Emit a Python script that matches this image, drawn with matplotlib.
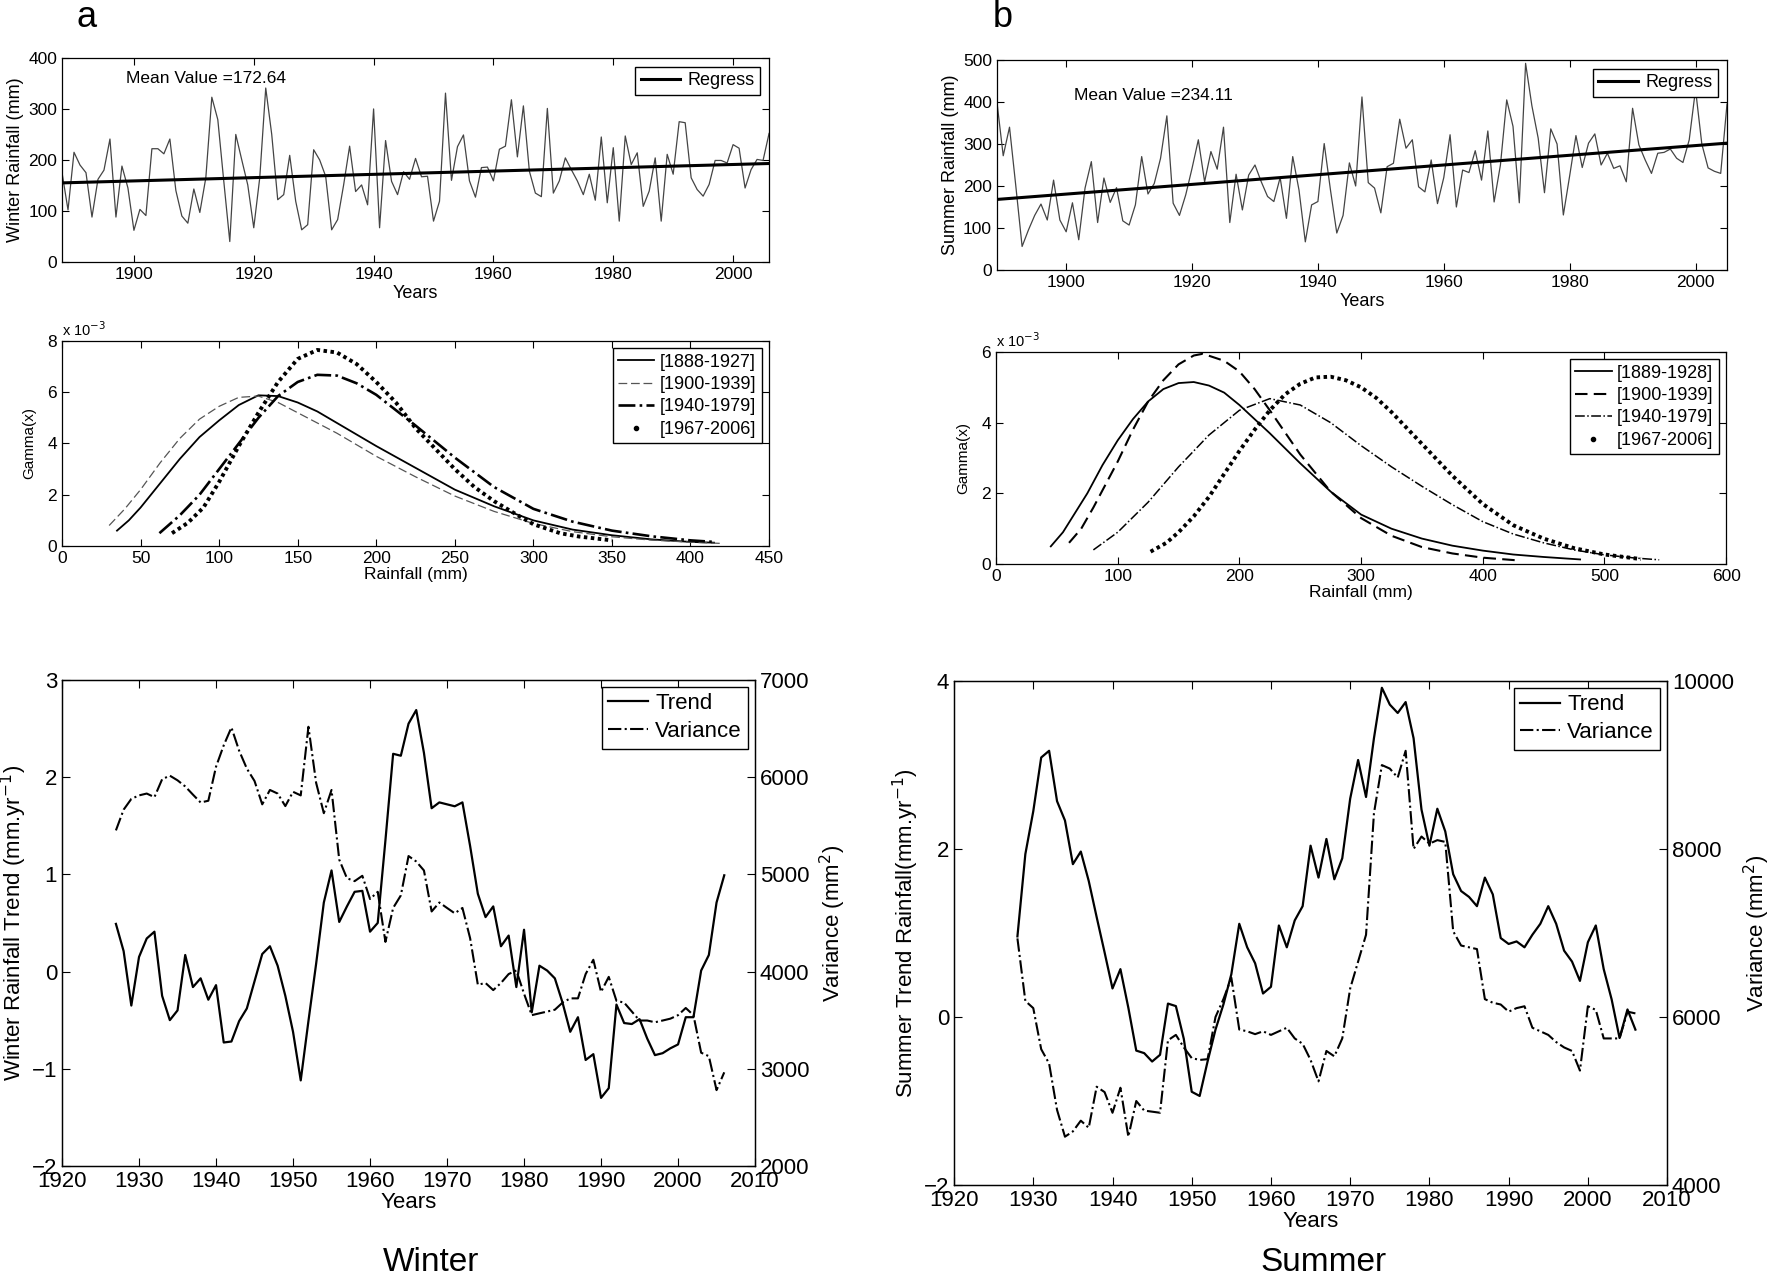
import numpy as np
import matplotlib
matplotlib.use("Agg")
import matplotlib.pyplot as plt
from matplotlib.lines import Line2D
from matplotlib import font_manager

# ---------------- data ----------------
w_years = np.arange(1888, 2007)
w_rain = [175, 102, 215, 190, 175, 88, 162, 180, 241, 88, 188, 145,
          62, 103, 91, 222, 222, 212, 241, 140, 90, 76,
          143, 97, 165, 323, 279, 158, 40, 250, 200, 151,
          67, 165, 341, 250, 122, 132, 209, 119, 63, 73,
          220, 200, 168, 63, 83, 151, 227, 138, 151, 112,
          300, 67, 238, 158, 132, 177, 162, 203, 167, 168,
          80, 119, 331, 160, 226, 249, 159, 127, 185, 186,
          159, 221, 227, 318, 206, 306, 178, 135, 128, 301,
          135, 159, 204, 181, 159, 132, 172, 121, 245, 116,
          224, 80, 247, 191, 214, 109, 139, 204, 80, 211,
          172, 275, 273, 165, 142, 129, 152, 199, 199, 194,
          230, 223, 145, 181, 201, 199, 252]
w_reg_years = [1888, 2006]
w_reg = [155, 193]

s_years = np.arange(1889, 2006)
s_rain = [400, 272, 340, 200, 56, 95, 130, 157, 119, 214, 119,
          91, 160, 72, 195, 258, 113, 219, 161, 196, 117,
          107, 155, 270, 181, 206, 266, 367, 159, 130, 179,
          242, 310, 210, 282, 240, 340, 113, 228, 143, 226,
          250, 210, 175, 163, 220, 123, 270, 190, 67, 155,
          163, 301, 190, 88, 130, 255, 200, 412, 208, 195,
          136, 246, 254, 359, 290, 310, 198, 186, 262, 158,
          220, 322, 150, 238, 232, 284, 214, 331, 162, 250,
          405, 342, 160, 492, 391, 314, 184, 336, 300, 131,
          224, 320, 244, 302, 324, 250, 278, 242, 248, 210,
          385, 298, 262, 230, 278, 280, 288, 266, 256, 310,
          430, 300, 243, 235, 230, 395]
s_reg_years = [1889, 2005]
s_reg = [168, 302]

# gamma curves (values x 1e-3)
wg1_x = [35, 42.5, 50, 62.5, 75, 87.5, 100, 112.5, 125, 137.5, 150, 162.5, 175,
         187.5, 200, 225, 250, 275, 300, 325, 350, 375, 400, 415]
wg1_y = [0.6, 1.0, 1.5, 2.45, 3.4, 4.25, 4.9, 5.5, 5.88, 5.85, 5.6, 5.25, 4.8,
         4.35, 3.9, 3.05, 2.2, 1.55, 1.0, 0.64, 0.42, 0.26, 0.16, 0.13]
wg2_x = [30, 40, 50, 62.5, 75, 87.5, 100, 112.5, 125, 137.5, 150, 175, 200,
         225, 250, 275, 300, 325, 350, 375, 400, 420]
wg2_y = [0.8, 1.45, 2.2, 3.25, 4.2, 4.95, 5.45, 5.8, 5.85, 5.6, 5.2, 4.4, 3.5,
         2.7, 1.95, 1.35, 0.88, 0.56, 0.36, 0.23, 0.15, 0.1]
wg3_x = [62, 75, 87.5, 100, 112.5, 125, 137.5, 150, 162.5, 175, 187.5, 200,
         225, 250, 275, 300, 325, 350, 375, 400, 415]
wg3_y = [0.5, 1.2, 2.0, 3.0, 4.0, 5.0, 5.85, 6.4, 6.68, 6.65, 6.35, 5.9,
         4.7, 3.45, 2.3, 1.45, 0.95, 0.6, 0.38, 0.22, 0.16]
wg4_x = [70, 80, 90, 100, 112.5, 125, 137.5, 150, 162.5, 175, 187.5, 200, 212.5,
         225, 237.5, 250, 262.5, 275, 290, 300, 317, 329, 350]
wg4_y = [0.5, 0.9, 1.5, 2.5, 3.9, 5.2, 6.4, 7.3, 7.65, 7.55, 7.1, 6.4, 5.6,
         4.6, 3.8, 3.0, 2.3, 1.75, 1.2, 0.85, 0.5, 0.37, 0.22]
w_periods = ["[1888-1927]", "[1900-1939]", "[1940-1979]", "[1967-2006]"]

sg1_x = [45, 55, 65, 75, 87.5, 100, 112.5, 125, 137.5, 150, 162.5, 175, 187.5,
         200, 225, 250, 275, 300, 325, 350, 375, 400, 425, 450, 480]
sg1_y = [0.5, 0.9, 1.45, 2.0, 2.8, 3.5, 4.1, 4.6, 4.95, 5.12, 5.15, 5.05, 4.85,
         4.5, 3.7, 2.85, 2.05, 1.4, 1.0, 0.72, 0.52, 0.38, 0.27, 0.2, 0.13]
sg2_x = [60, 70, 80, 90, 100, 112.5, 125, 137.5, 150, 162.5, 170, 187.5, 200,
         212.5, 225, 250, 275, 300, 325, 350, 375, 400, 430]
sg2_y = [0.6, 1.0, 1.6, 2.25, 2.9, 3.8, 4.6, 5.2, 5.65, 5.9, 5.95, 5.75, 5.45,
         4.95, 4.35, 3.1, 2.05, 1.3, 0.8, 0.48, 0.3, 0.18, 0.1]
sg3_x = [80, 100, 125, 150, 175, 200, 225, 250, 275, 300, 325, 350, 375, 400,
         425, 450, 475, 500, 525, 545]
sg3_y = [0.4, 0.9, 1.75, 2.75, 3.65, 4.35, 4.68, 4.5, 4.0, 3.35, 2.75, 2.2,
         1.68, 1.2, 0.85, 0.6, 0.4, 0.26, 0.17, 0.12]
sg4_x = [127, 140, 150, 162.5, 175, 187.5, 200, 212.5, 225, 237.5, 250, 262.5,
         275, 287.5, 300, 312.5, 325, 337.5, 350, 375, 400, 425, 450, 475, 500, 530]
sg4_y = [0.35, 0.6, 0.9, 1.35, 1.9, 2.55, 3.2, 3.8, 4.35, 4.8, 5.1, 5.28,
         5.3, 5.2, 5.0, 4.7, 4.3, 3.85, 3.4, 2.5, 1.7, 1.1, 0.72, 0.45, 0.27, 0.14]
s_periods = ["[1889-1928]", "[1900-1939]", "[1940-1979]", "[1967-2006]"]

# moving-window trend and variance
wt_years = np.arange(1927, 2007)
w_trend = [0.49, 0.21, -0.35, 0.15, 0.34, 0.41, -0.25, -0.5, -0.40, 0.17,
           -0.16, -0.07, -0.29, -0.14, -0.73, -0.72, -0.51, -0.38, -0.10, 0.18,
           0.26, 0.06, -0.25, -0.62, -1.12, -0.51, 0.08, 0.71, 1.04, 0.51,
           0.67, 0.82, 0.83, 0.41, 0.50, 1.35, 2.24, 2.22, 2.55, 2.69,
           2.25, 1.68, 1.74, 1.72, 1.70, 1.74, 1.29, 0.80, 0.56, 0.67,
           0.26, 0.37, -0.16, 0.43, -0.42, 0.06, 0.01, -0.07, -0.32, -0.62,
           -0.47, -0.91, -0.85, -1.30, -1.20, -0.34, -0.53, -0.54, -0.49, -0.69,
           -0.86, -0.84, -0.79, -0.75, -0.47, -0.47, 0.01, 0.17, 0.71, 0.99]
w_var = [5452, 5665, 5776, 5812, 5831, 5794, 5978, 6015, 5967, 5904,
         5820, 5739, 5757, 6107, 6327, 6511, 6272, 6088, 5960, 5720,
         5868, 5831, 5702, 5849, 5812, 6518, 5941, 5629, 5868, 5151,
         4960, 4930, 4985, 4746, 4820, 4305, 4654, 4783, 5188, 5132,
         5040, 4618, 4710, 4654, 4599, 4654, 4342, 3864, 3882, 3809,
         3882, 3974, 4011, 3772, 3551, 3570, 3588, 3607, 3680, 3724,
         3724, 3974, 4121, 3790, 3945, 3699, 3680, 3588, 3496, 3496,
         3478, 3496, 3515, 3551, 3625, 3551, 3165, 3129, 2780, 2963]

st_years = np.arange(1928, 2007)
s_trend = [0.96, 1.94, 2.45, 3.09, 3.17, 2.57, 2.34, 1.82, 1.97, 1.62,
           1.19, 0.77, 0.34, 0.57, 0.11, -0.40, -0.43, -0.53, -0.45, 0.16,
           0.13, -0.26, -0.89, -0.94, -0.53, -0.15, 0.15, 0.51, 1.11, 0.83,
           0.64, 0.28, 0.36, 1.09, 0.83, 1.15, 1.32, 2.04, 1.66, 2.12,
           1.64, 1.89, 2.60, 3.06, 2.62, 3.32, 3.92, 3.72, 3.62, 3.75,
           3.32, 2.47, 2.04, 2.48, 2.21, 1.70, 1.50, 1.43, 1.32, 1.66,
           1.46, 0.94, 0.87, 0.90, 0.83, 0.98, 1.11, 1.32, 1.11, 0.79,
           0.66, 0.43, 0.89, 1.09, 0.57, 0.21, -0.25, 0.09, -0.15]
s_var = [6936, 6191, 6106, 5617, 5446, 4894, 4575, 4638, 4766, 4681,
         5170, 5106, 4860, 5158, 4575, 5000, 4886, 4873, 4860, 5723,
         5787, 5638, 5511, 5489, 5498, 6000, 6213, 6468, 5851, 5830,
         5796, 5830, 5787, 5830, 5872, 5745, 5681, 5489, 5234, 5596,
         5532, 5745, 6340, 6660, 6979, 8426, 9000, 8958, 8851, 9170,
         8000, 8149, 8064, 8106, 8085, 7021, 6851, 6830, 6809, 6213,
         6170, 6149, 6064, 6106, 6128, 5872, 5830, 5787, 5702, 5638,
         5596, 5362, 6128, 6085, 5745, 5745, 5745, 6064, 6043]

# ---------------- fonts ----------------
installed = {f.name for f in font_manager.fontManager.ttflist}
narrow = "Liberation Sans Narrow" if "Liberation Sans Narrow" in installed else "Liberation Sans"
plt.rcParams["font.family"] = [narrow, "DejaVu Sans"]
plt.rcParams["axes.linewidth"] = 0.9
plt.rcParams["legend.fancybox"] = False
plt.rcParams["legend.edgecolor"] = "black"
plt.rcParams["legend.framealpha"] = 1
plt.rcParams["legend.borderaxespad"] = 0.4

fig = plt.figure(figsize=(17.72, 12.79), dpi=100)


def box_ticks(ax, size):
    ax.tick_params(direction="in", top=True, right=True, labelsize=size,
                   length=5, width=0.8)


def rain_panel(rect, years, rain, reg_years, reg, ylim, ylabel, mean_txt, txt_pos):
    ax = fig.add_axes(rect)
    ax.plot(years, rain, color="#444444", lw=0.9)
    ax.plot(reg_years, reg, color="black", lw=2.2, label="Regress")
    ax.set_xlim(years[0], years[-1])
    ax.set_ylim(*ylim)
    ax.set_xticks([1900, 1920, 1940, 1960, 1980, 2000])
    ax.set_yticks(np.arange(ylim[0], ylim[1] + 1, 100))
    ax.set_xlabel("Years", fontsize=13, labelpad=2)
    ax.set_ylabel(ylabel, fontsize=13, family="Liberation Sans", labelpad=3)
    ax.text(txt_pos[0], txt_pos[1], mean_txt, transform=ax.transAxes,
            fontsize=12.5, va="center")
    box_ticks(ax, 12.5)
    ax.legend(loc="upper right", fontsize=13, handlelength=2.2,
              handletextpad=0.4, borderpad=0.3, borderaxespad=0.5)
    return ax


def gamma_panel(rect, curves, styles, labels, xlim, xticks, ylim, yticks):
    ax = fig.add_axes(rect)
    handles = []
    for (cx, cy), st, lab in zip(curves, styles, labels):
        ax.plot(cx, cy, **st)
        if lab.startswith("[1967"):
            handles.append(Line2D([], [], color="black", marker=".", ls="none",
                                  markersize=6, label=lab))
        else:
            handles.append(Line2D([], [], **st, label=lab))
    ax.set_xlim(*xlim)
    ax.set_ylim(*ylim)
    ax.set_xticks(xticks)
    ax.set_yticks(yticks)
    ax.set_xlabel("Rainfall (mm)", fontsize=12.5, labelpad=1)
    ax.set_ylabel("Gamma(x)", fontsize=11, family="Liberation Sans", labelpad=8)
    ax.text(0.0, 1.025, r"x 10$^{-3}$", transform=ax.transAxes, fontsize=10.5)
    box_ticks(ax, 12.5)
    ax.legend(handles=handles, loc="upper right", fontsize=13,
              handlelength=2.0, handletextpad=0.3, borderpad=0.3,
              labelspacing=0.3)
    return ax


def trend_panel(rect, years, trend, var, ylim, yticks, vlim, vticks, ylabel):
    ax = fig.add_axes(rect)
    l1, = ax.plot(years, trend, color="black", lw=1.6, label="Trend")
    ax.set_xlim(1920, 2010)
    ax.set_ylim(*ylim)
    ax.set_yticks(yticks)
    ax.set_xticks(np.arange(1920, 2011, 10))
    ax.tick_params(direction="in", top=True, labelsize=16, length=6, width=0.8)
    ax.set_xlabel("Years", fontsize=16, labelpad=0)
    ax.set_ylabel(ylabel, fontsize=16, family="Liberation Sans", labelpad=2)
    ax2 = ax.twinx()
    l2, = ax2.plot(years, var, color="black", lw=1.5, ls="-.", label="Variance")
    ax2.set_ylim(*vlim)
    ax2.set_yticks(vticks)
    ax2.tick_params(direction="in", labelsize=16, length=6, width=0.8)
    ax2.set_ylabel(r"Variance (mm$^2$)", fontsize=16, family="Liberation Sans",
                   labelpad=6)
    ax2.legend(handles=[l1, l2], loc="upper right", fontsize=16,
               handlelength=1.8, handletextpad=0.3, borderpad=0.3,
               labelspacing=0.3, borderaxespad=0.3)
    return ax


rain_panel([0.0350, 0.7952, 0.3990, 0.1595], w_years, w_rain, w_reg_years, w_reg,
           (0, 400), "Winter Rainfall (mm)", "Mean Value =172.64", (0.09, 0.9))
rain_panel([0.5626, 0.7889, 0.4120, 0.1642], s_years, s_rain, s_reg_years, s_reg,
           (0, 500), "Summer Rainfall (mm)", "Mean Value =234.11", (0.105, 0.83))

dots = (0, (0.9, 0.9))
w_styles = [dict(color="black", lw=1.3, ls="-"),
            dict(color="#555555", lw=0.9, ls=(0, (7, 3))),
            dict(color="black", lw=1.9, ls="-."),
            dict(color="black", lw=2.8, ls=dots)]
s_styles = [dict(color="black", lw=1.3, ls="-"),
            dict(color="black", lw=1.5, ls=(0, (6, 3))),
            dict(color="black", lw=1.1, ls="-."),
            dict(color="black", lw=2.8, ls=dots)]

gamma_panel([0.0350, 0.5731, 0.3990, 0.1603],
            [(wg1_x, wg1_y), (wg2_x, wg2_y), (wg3_x, wg3_y), (wg4_x, wg4_y)],
            w_styles, w_periods, (0, 450), np.arange(0, 451, 50), (0, 8), [0, 2, 4, 6, 8])
gamma_panel([0.5621, 0.5590, 0.4120, 0.1658],
            [(sg1_x, sg1_y), (sg2_x, sg2_y), (sg3_x, sg3_y), (sg4_x, sg4_y)],
            s_styles, s_periods, (0, 600), np.arange(0, 601, 100), (0, 6), [0, 2, 4, 6])

trend_panel([0.0350, 0.0884, 0.3911, 0.3800], wt_years, w_trend, w_var,
            (-2, 3), [-2, -1, 0, 1, 2, 3], (2000, 7000), np.arange(2000, 7001, 1000),
            r"Winter Rainfall Trend (mm.yr$^{-1}$)")
trend_panel([0.5384, 0.0735, 0.4024, 0.3940], st_years, s_trend, s_var,
            (-2, 4), [-2, 0, 2, 4], (4000, 10000), [4000, 6000, 8000, 10000],
            r"Summer Trend Rainfall(mm.yr$^{-1}$)")

fig.text(0.043, 0.986, "a", fontsize=26, family="Liberation Sans", va="center")
fig.text(0.560, 0.986, "b", fontsize=26, family="Liberation Sans", va="center")
fig.text(0.243, 0.013, "Winter", fontsize=24, family="Liberation Sans",
         ha="center", va="center")
fig.text(0.747, 0.013, "Summer", fontsize=24, family="Liberation Sans",
         ha="center", va="center")

fig.savefig("out.png", dpi=100)
